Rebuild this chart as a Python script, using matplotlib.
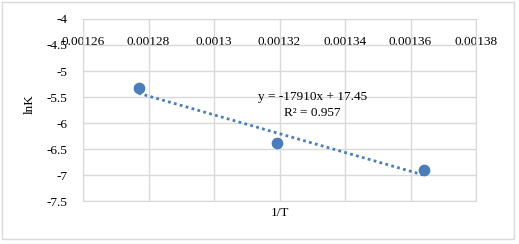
import matplotlib
matplotlib.use('Agg')
import matplotlib.pyplot as plt
import numpy as np
from matplotlib.patches import Rectangle

# data
inv_T = [0.001277, 0.0013192, 0.0013641]
lnK = [-5.33, -6.38, -6.91]
x_ticks = [0.00126, 0.00128, 0.0013, 0.00132, 0.00134, 0.00136, 0.00138]
x_tick_labels = ['0.00126', '0.00128', '0.0013', '0.00132', '0.00134', '0.00136', '0.00138']
y_ticks = [-4, -4.5, -5, -5.5, -6, -6.5, -7, -7.5]
y_tick_labels = ['-4', '-4.5', '-5', '-5.5', '-6', '-6.5', '-7', '-7.5']
eq_text = 'y = -17910x + 17.45'
r2_text = 'R² = 0.957'

plt.rcParams['font.family'] = ['Liberation Serif', 'DejaVu Serif']
blue = '#4a7ebb'
grid_col = '#d9d9d9'

fig = plt.figure(figsize=(5.19, 2.44), dpi=100)
ax = fig.add_axes([83 / 519, 43 / 244, 393 / 519, 182 / 244])

# outer chart frame
fig.patches.append(Rectangle((2 / 519, 5 / 244), 512 / 519, 237 / 244,
                             transform=fig.transFigure, fill=False,
                             edgecolor=grid_col, linewidth=1.0))

# linear trendline
slope, intercept = np.polyfit(inv_T, lnK, 1)
xs = np.array([min(inv_T), max(inv_T)])
ax.plot(xs, slope * xs + intercept, linestyle=(0, (1, 1.2)), color=blue,
        linewidth=2.0, zorder=3)
ax.scatter(inv_T, lnK, s=55, color=blue, zorder=4)

ax.set_xlim(0.00126, 0.00138)
ax.set_ylim(-7.5, -4)
ax.set_xticks(x_ticks)
ax.set_xticklabels(x_tick_labels)
ax.set_yticks(y_ticks)
ax.set_yticklabels(y_tick_labels)
ax.grid(True, color=grid_col, linewidth=1.0)
ax.set_axisbelow(True)
for s in ax.spines.values():
    s.set_color(grid_col)

# horizontal axis sits at the top, labels drawn just below it
ax.tick_params(axis='x', top=True, labeltop=True, bottom=False, labelbottom=False,
               length=0, pad=-21, labelsize=9.5, colors='black')
ax.tick_params(axis='y', length=0, pad=11, labelsize=9.5)

ax.set_xlabel('1/T', fontsize=9.5, labelpad=4)
ax.xaxis.set_label_position('bottom')
ax.set_ylabel('lnK', fontsize=9.5)
ax.yaxis.set_label_coords(-0.12, 0.53)

ax.text(0.00133, -5.5, eq_text, fontsize=9.5, ha='center', va='center')
ax.text(0.00133, -5.81, r2_text, fontsize=9.5, ha='center', va='center')

fig.savefig('out.png', dpi=100)
